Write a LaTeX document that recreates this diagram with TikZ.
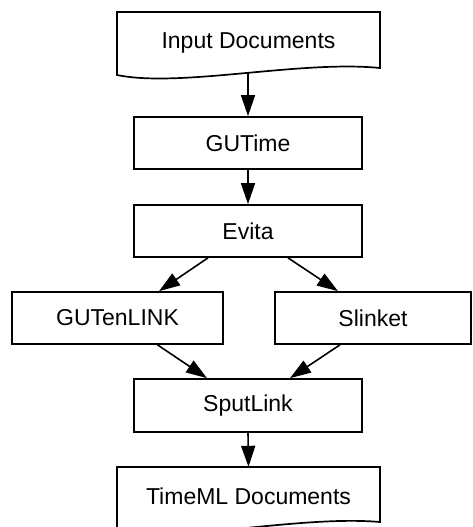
\documentclass[tikz,border=0pt]{standalone}
\usepackage{fontspec}
\setmainfont{Liberation Sans}
\usetikzlibrary{arrows.meta,calc}
\begin{document}
\begin{tikzpicture}[x=1pt,y=-1pt,
  box/.style={draw=black,line width=1.7pt,rectangle,inner sep=0pt,minimum height=52pt,
    font=\fontsize{23}{27}\selectfont},
  doctext/.style={rectangle,inner sep=0pt,font=\fontsize{23}{27}\selectfont},
  docline/.style={draw=black,line width=1.7pt,line join=miter},
  arr/.style={line width=1.6pt,-{Triangle[length=21pt,width=14pt]}}]
\useasboundingbox (0,0) rectangle (472,527);
% document shapes
\draw[docline] (117,75) -- (117,12) -- (380,12) -- (380,68)
  .. controls (300,60) and (180,88) .. (117,75) -- cycle;
\draw[docline] (117,531) -- (117,467) -- (380,467) -- (380,522)
  .. controls (300,515) and (180,543) .. (117,531);
\node[doctext,minimum width=263pt,minimum height=60pt] (in) at (248.5,42.5) {Input Documents};
\node[doctext,minimum width=263pt,minimum height=58pt] (out) at (248.5,496) {TimeML Documents};
% boxes
\node[box,minimum width=228pt] (gutime) at (248,143) {GUTime};
\node[box,minimum width=228pt] (evita) at (248,231) {Evita};
\node[box,minimum width=211pt] (gutl) at (117.5,318) {GUTenLINK};
\node[box,minimum width=196pt] (slink) at (373,318) {Slinket};
\node[box,minimum width=228pt,minimum height=53pt] (sput) at (248,405.5) {SputLink};
% connectors
\draw[arr] ([xshift=-0.5pt]in.south) -- (gutime.north);
\draw[arr] (gutime.south) -- (evita.north);
\draw[arr] ([xshift=-40pt]evita.south) -- ([xshift=41.5pt]gutl.north);
\draw[arr] ([xshift=40pt]evita.south) -- ([xshift=-35pt]slink.north);
\draw[arr] ([xshift=40pt]gutl.south) -- ([xshift=-41pt]sput.north);
\draw[arr] ([xshift=-33pt]slink.south) -- ([xshift=42pt]sput.north);
\draw[arr] (sput.south) -- (out.north);
\end{tikzpicture}
\end{document}
